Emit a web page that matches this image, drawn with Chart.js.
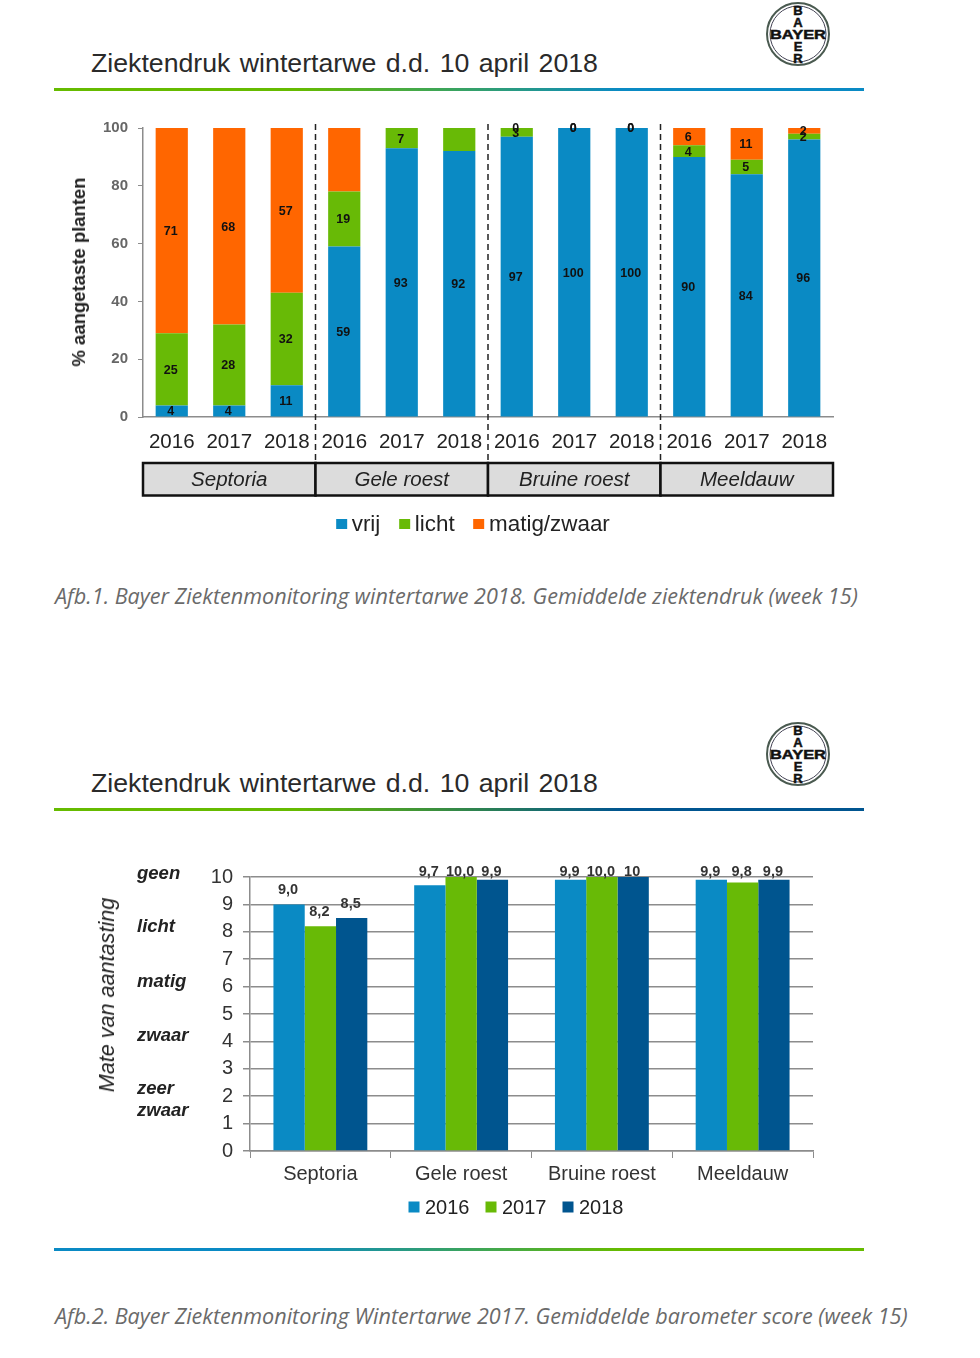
<!DOCTYPE html>
<html><head><meta charset="utf-8">
<script src="https://cdn.jsdelivr.net/npm/chart.js@4"></script>
<style>
html,body{margin:0;padding:0;background:#fff}
body{position:relative;width:980px;height:1358px;overflow:hidden;font-family:"Liberation Sans",Arial,sans-serif}
canvas{position:absolute;left:0}
.t{position:absolute;white-space:pre;color:#222}
.title{left:91px;font-size:26.7px;word-spacing:2px;color:#2a2a2a;line-height:32px}
.rule{position:absolute;left:54px;width:810px;height:3px}
.cap{left:55px;font-family:"Open Sans",sans-serif;font-style:italic;font-size:21.6px;color:#6a6a6a;line-height:28px}
.sev{left:137px;font-weight:bold;font-style:italic;font-size:18.5px;line-height:22px;color:#222}
.yt{transform:translate(-50%,-50%) rotate(-90deg);line-height:22px}
.lg{position:absolute;display:flex;align-items:center;transform:translate(-50%,-50%);color:#222;white-space:pre}
.lg i{display:block;width:10.5px;height:10.5px}
svg{position:absolute}
</style></head><body>
<div class="t title" style="top:47px">Ziektendruk wintertarwe d.d. 10 april 2018</div>
<div class="rule" style="top:88px;background:linear-gradient(90deg,#66bb00,#66bb00 30%,#0a8ac4 70%,#0a8ac4)"></div>
<canvas id="c1" width="980" height="450" style="top:100px;width:980px;height:450px"></canvas>
<div class="t yt" style="left:79px;top:272px;font-weight:bold;font-size:18.5px">% aangetaste planten</div>
<div class="lg" id="lg1" style="left:473px;top:524px;font-size:22.4px"></div>
<div class="t cap" style="top:582px">Afb.1. Bayer Ziektenmonitoring wintertarwe 2018. Gemiddelde ziektendruk (week 15)</div>

<div class="t title" style="top:767px">Ziektendruk wintertarwe d.d. 10 april 2018</div>
<div class="rule" style="top:808px;background:linear-gradient(90deg,#66bb00,#66bb00 30%,#005590 70%,#005590)"></div>
<canvas id="c2" width="980" height="400" style="top:840px;width:980px;height:400px"></canvas>
<div class="t yt" style="left:107px;top:995px;font-style:italic;font-size:21.6px">Mate van aantasting</div>
<div class="lg" id="lg2" style="left:516px;top:1207px;font-size:20px"></div>
<div class="t sev" style="top:862px">geen</div>
<div class="t sev" style="top:915px">licht</div>
<div class="t sev" style="top:970px">matig</div>
<div class="t sev" style="top:1024px">zwaar</div>
<div class="t sev" style="top:1077px">zeer</div>
<div class="t sev" style="top:1099px">zwaar</div>
<div class="rule" style="top:1248px;background:linear-gradient(90deg,#0a8ac4,#0a8ac4 30%,#66bb00 70%,#66bb00)"></div>
<div class="t cap" style="top:1302px">Afb.2. Bayer Ziektenmonitoring Wintertarwe 2017. Gemiddelde barometer score (week 15)</div>

<script>
// ---- Chart 1 data
const years1 = ['2016','2017','2018','2016','2017','2018','2016','2017','2018','2016','2017','2018'];
const diseases1 = ['Septoria','Gele roest','Bruine roest','Meeldauw'];
const vrij  = [4,4,11,59,93,92,97,100,100,90,84,96];
const licht = [25,28,32,19,7,8,3,0,0,4,5,2];
const matig = [71,68,57,22,0,0,0,0,0,6,11,2];
const unlabeledLicht = [5];
const unlabeledMatig = [3,4,5];
// ---- Chart 2 data
const diseases2 = ['Septoria','Gele roest','Bruine roest','Meeldauw'];
const score2016 = [9.0,9.7,9.9,9.9];
const score2017 = [8.2,10.0,10.0,9.8];
const score2018 = [8.5,9.9,10.0,9.9];
const text2016 = ['9,0','9,7','9,9','9,9'];
const text2017 = ['8,2','10,0','10,0','9,8'];
const text2018 = ['8,5','9,9','10','9,9'];

const BLUE='#0a8ac4', GREEN='#68ba06', ORANGE='#ff6600', NAVY='#00558f', AXIS='#8c8c8c';
const SANS='"Liberation Sans",Arial,sans-serif';
Chart.defaults.animation=false;
Chart.defaults.font.family=SANS;

function fixY(w){return s=>{s.width=w;s.paddingTop=0;s.paddingBottom=0;};}
function fixX(h){return s=>{s.height=h;s.paddingLeft=0;s.paddingRight=0;};}
function htmlLegend(id,chart,boxGap,itemGap){
  const root=document.getElementById(id);
  chart.data.datasets.forEach((d,i)=>{
    const b=document.createElement('i');b.style.background=d.backgroundColor;
    b.style.marginRight=boxGap+'px';if(i)b.style.marginLeft=itemGap+'px';
    const s=document.createElement('span');s.textContent=d.label;
    root.appendChild(b);root.appendChild(s);
  });
}

const stackLabels={id:'stackLabels',afterDatasetsDraw(c){
  const g=c.ctx;g.save();g.font='bold 12.5px '+SANS;g.fillStyle='#111';g.textAlign='center';g.textBaseline='middle';
  const skip=[[],unlabeledLicht,unlabeledMatig];
  c.data.datasets.forEach((d,i)=>{
    const m=c.getDatasetMeta(i);
    d.data.forEach((v,j)=>{
      if(skip[i].includes(j))return;
      const b=m.data[j];
      g.fillText(String(v),b.x-1,(b.y+b.base)/2+1);
    });
  });
  g.restore();
}};
const groups={id:'groups',afterDraw(c){
  const g=c.ctx,x=c.scales.x;
  const step=x.getPixelForTick(1)-x.getPixelForTick(0);
  g.save();
  const top=363,bot=395.5;
  diseases1.forEach((name,i)=>{
    const l=x.getPixelForTick(i*3)-step/2,r=l+step*3;
    g.fillStyle='#dcdcdc';g.strokeStyle='#111';g.lineWidth=2.5;
    g.fillRect(l,top,r-l,bot-top);g.strokeRect(l,top,r-l,bot-top);
    g.fillStyle='#222';g.font='italic 20.5px '+SANS;g.textAlign='center';g.textBaseline='middle';
    g.fillText(name,(l+r)/2,(top+bot)/2+1);
    if(i>0){g.strokeStyle='#222';g.lineWidth=1.5;g.setLineDash([6,4]);
      g.beginPath();g.moveTo(l,24);g.lineTo(l,top);g.stroke();g.setLineDash([]);}
  });
  g.restore();
}};
const chart1=new Chart(document.getElementById('c1'),{
  type:'bar',
  data:{labels:years1,datasets:[
    {label:'vrij',data:vrij,backgroundColor:BLUE},
    {label:'licht',data:licht,backgroundColor:GREEN},
    {label:'matig/zwaar',data:matig,backgroundColor:ORANGE}]},
  options:{responsive:false,devicePixelRatio:1,
    layout:{padding:{left:60,right:147,top:28,bottom:0}},
    datasets:{bar:{categoryPercentage:1,barPercentage:0.56}},
    scales:{
      x:{stacked:true,afterFit:fixX(133),grid:{display:false},border:{color:AXIS,width:1.5},
         ticks:{maxRotation:0,minRotation:0,autoSkip:false,padding:5,color:'#222',font:{size:20.5}}},
      y:{stacked:true,min:0,max:100,afterFit:fixY(83),grid:{drawOnChartArea:false,tickLength:5,color:AXIS},
         border:{color:AXIS,width:1.5},
         ticks:{stepSize:20,padding:10,color:'#666',font:{size:15,weight:'bold'}}}},
    plugins:{tooltip:{enabled:false},legend:{display:false}}},
  plugins:[stackLabels,groups]
});
htmlLegend('lg1',chart1,5,19);

const barLabels={id:'barLabels',afterDatasetsDraw(c){
  const g=c.ctx;g.save();g.font='bold 14.5px '+SANS;g.fillStyle='#333';g.textAlign='center';g.textBaseline='middle';
  const texts=[text2016,text2017,text2018];
  c.data.datasets.forEach((d,i)=>{
    const m=c.getDatasetMeta(i);
    d.data.forEach((v,j)=>{
      const b=m.data[j];
      g.fillText(texts[i][j],b.x-1,Math.max(c.chartArea.top-5,b.y-14));
    });
  });
  g.restore();
}};
const chart2=new Chart(document.getElementById('c2'),{
  type:'bar',
  data:{labels:diseases2,datasets:[
    {label:'2016',data:score2016,backgroundColor:BLUE},
    {label:'2017',data:score2017,backgroundColor:GREEN},
    {label:'2018',data:score2018,backgroundColor:NAVY}]},
  options:{responsive:false,devicePixelRatio:1,
    layout:{padding:{left:180,right:167,top:37,bottom:0}},
    datasets:{bar:{categoryPercentage:0.667,barPercentage:1}},
    scales:{
      x:{afterFit:fixX(89),grid:{drawOnChartArea:false,tickLength:7,color:AXIS},border:{color:AXIS,width:1.5},
         ticks:{maxRotation:0,minRotation:0,autoSkip:false,padding:4,color:'#333',font:{size:20}}},
      y:{min:0,max:10,afterFit:fixY(70),grid:{color:AXIS,lineWidth:1.5,tickLength:7},border:{color:AXIS,width:1.5},
         ticks:{stepSize:1,padding:10,color:'#333',font:{size:20}}}},
    plugins:{tooltip:{enabled:false},legend:{display:false}}},
  plugins:[barLabels]
});
htmlLegend('lg2',chart2,6,16);

// Bayer cross logo, one at each header
function logo(cy){
  const NS='http://www.w3.org/2000/svg';
  const s=document.createElementNS(NS,'svg');
  s.setAttribute('width','70');s.setAttribute('height','70');
  s.style.left='763px';s.style.top=(cy-35)+'px';
  const add=(n,a,txt)=>{const e=document.createElementNS(NS,n);for(const k in a)e.setAttribute(k,a[k]);if(txt)e.textContent=txt;s.appendChild(e);};
  add('circle',{cx:35,cy:35,r:31,fill:'none',stroke:'#4a5a50','stroke-width':2});
  add('circle',{cx:35,cy:35,r:28,fill:'none',stroke:'#445','stroke-width':1});
  const style={'font-family':'Liberation Sans','font-weight':'bold','font-size':13,fill:'#111',stroke:'#111','stroke-width':0.5,'text-anchor':'middle'};
  add('text',Object.assign({x:35,y:40,textLength:56,lengthAdjust:'spacingAndGlyphs'},style),'BAYER');
  'BAYER'.split('').forEach((ch,i)=>{ if(i!==2) add('text',Object.assign({x:35,y:16+i*12},style),ch); });
  document.body.appendChild(s);
}
logo(34);logo(754);
</script>
</body></html>
